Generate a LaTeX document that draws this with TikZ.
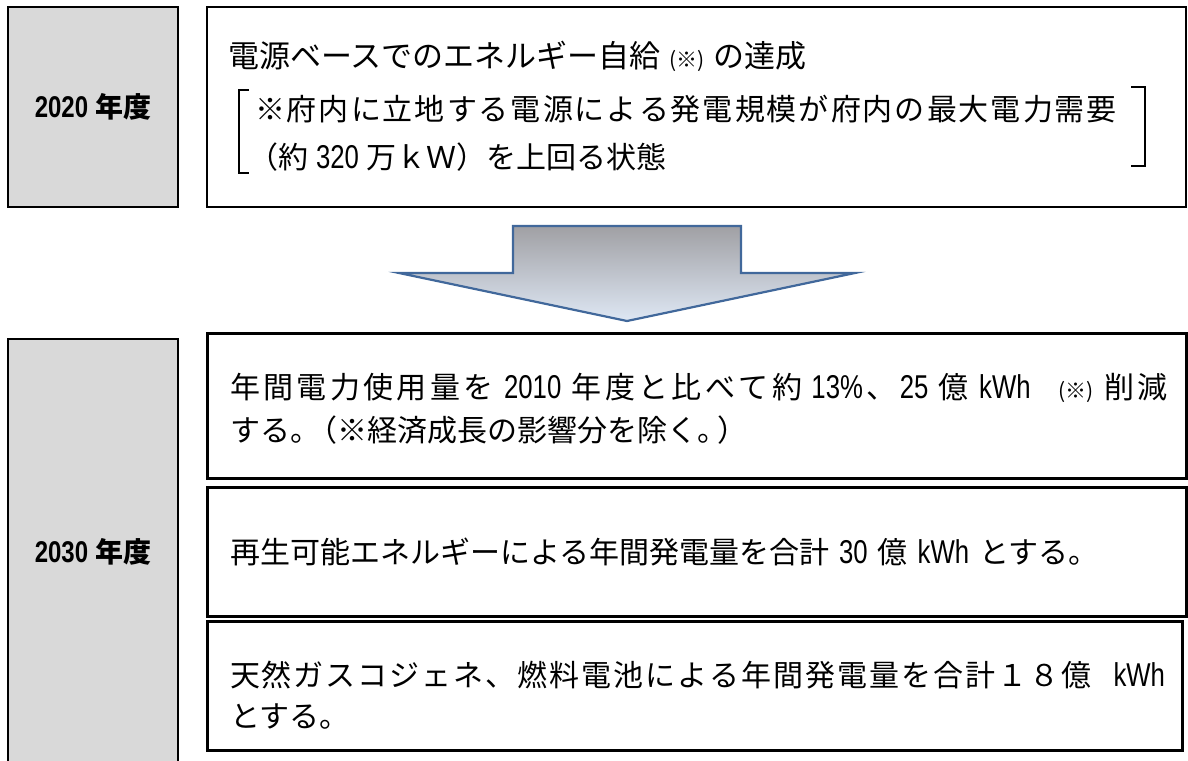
\documentclass[tikz,border=0pt]{standalone}
\usepackage{fontspec}
\setmainfont{Noto Sans CJK JP}
\newfontfamily\lat[FakeStretch=0.78]{Liberation Sans}
\newfontfamily\latb[FakeStretch=0.8]{Liberation Sans Bold}
\definecolor{boxgray}{RGB}{217,217,217}
\definecolor{arrowline}{RGB}{65,104,155}
\definecolor{arrowtop}{RGB}{160,160,164}
\definecolor{arrowmid}{RGB}{197,212,236}
\definecolor{arrowbot}{RGB}{222,231,244}
\newcommand{\latnum}[1]{{\lat\fontsize{33}{33}\selectfont #1}}
\newcommand{\smallnote}{{\fontsize{21}{21}\selectfont (※)}}
\makeatletter
\newcommand{\spreadline}[2]{\hbox to #1{\@tfor\sp@tok:=#2\do{\sp@tok\hskip 0pt plus 1fil}\unskip}}
\makeatother
\begin{document}
\begin{tikzpicture}[x=1pt,y=-1pt,
  every node/.style={inner sep=0pt,outer sep=0pt},
  yearbox/.style={draw=black,line width=2.6pt,fill=boxgray},
  topbox/.style={draw=black,line width=1.4pt,fill=white},
  goalbox/.style={draw=black,line width=3pt,fill=white},
  brk/.style={draw=black,line width=1.6pt},
  txt/.style={anchor=west,font=\fontsize{30}{30}\selectfont},
  yeartxt/.style={anchor=center,font=\fontsize{28}{28}\selectfont\bfseries},
  blockarrow/.style={draw=arrowline,line width=2.2pt,line join=miter,
    top color=arrowtop,middle color=arrowmid,bottom color=arrowbot}]
\useasboundingbox (0,0) rectangle (1188,760);
\clip (0,0) rectangle (1188,760);
% 2020
\draw[yearbox] (8,7) rectangle (178,207);
\draw[topbox] (207,7) rectangle (1186,207);
\node[yeartxt] (t2020) at (93,107) {{\latb\fontsize{30}{30}\selectfont 2020}\hspace{7pt}年度};
\node[txt,font=\fontsize{31}{31}\selectfont] (l1) at (228,56) {電源ベースでのエネルギー自給\hspace{9pt}\smallnote\hspace{9pt}の達成};
\node[txt] (l2) at (255,109) {\spreadline{862pt}{※府内に立地する電源による発電規模が府内の最大電力需要}};
\node[txt] (l3) at (248,157) {（約\hspace{8pt}\latnum{320}\hspace{8pt}万ｋＷ）を上回る状態};
\draw[brk] (249,90) -- (239,90) -- (239,173) -- (249,173);
\draw[brk] (1131,87) -- (1145,87) -- (1145,166) -- (1131,166);
% arrow
\coordinate (aTip) at (627,321);
\path[blockarrow] (513,226) -- (741,226) -- (741,273) -- (855,273) -- (aTip)
  -- (399,273) -- (513,273) -- cycle;
% 2030
\draw[yearbox] (8,339) rectangle (178,790);
\node[yeartxt] (t2030) at (93,552) {{\latb\fontsize{30}{30}\selectfont 2030}\hspace{7pt}年度};
\draw[goalbox] (207,333) rectangle (1186,478);
\draw[goalbox] (207,487) rectangle (1186,616);
\draw[goalbox] (207,621) rectangle (1182,750);
\node[txt] (b1a) at (230,388) {\spreadline{938pt}{年間電力使用量を{\hspace{7pt}\latnum{2010}\hspace{7pt}}年度と比べて約{\hspace{6pt}\latnum{13\%}}、{\latnum{25}\hspace{7pt}}億{\hspace{7pt}\latnum{kWh}\hspace{24pt}}{\smallnote\hspace{8pt}}削減}};
\node[txt] (b1b) at (230,430) {する。\hspace{-13pt}（※経済成長の影響分を除く。\hspace{-10pt}）};
\node[txt] (b2) at (230,552) {再生可能エネルギーによる年間発電量を合計\hspace{10pt}\latnum{30}\hspace{10pt}億\hspace{10pt}\latnum{kWh}\hspace{10pt}とする。};
\node[txt] (b3a) at (230,675) {\spreadline{935pt}{天然ガスコジェネ、燃料電池による年間発電量を合計１８億{\hspace{20pt}\latnum{kWh}}}};
\node[txt] (b3b) at (230,717) {とする。};
\end{tikzpicture}
\end{document}
